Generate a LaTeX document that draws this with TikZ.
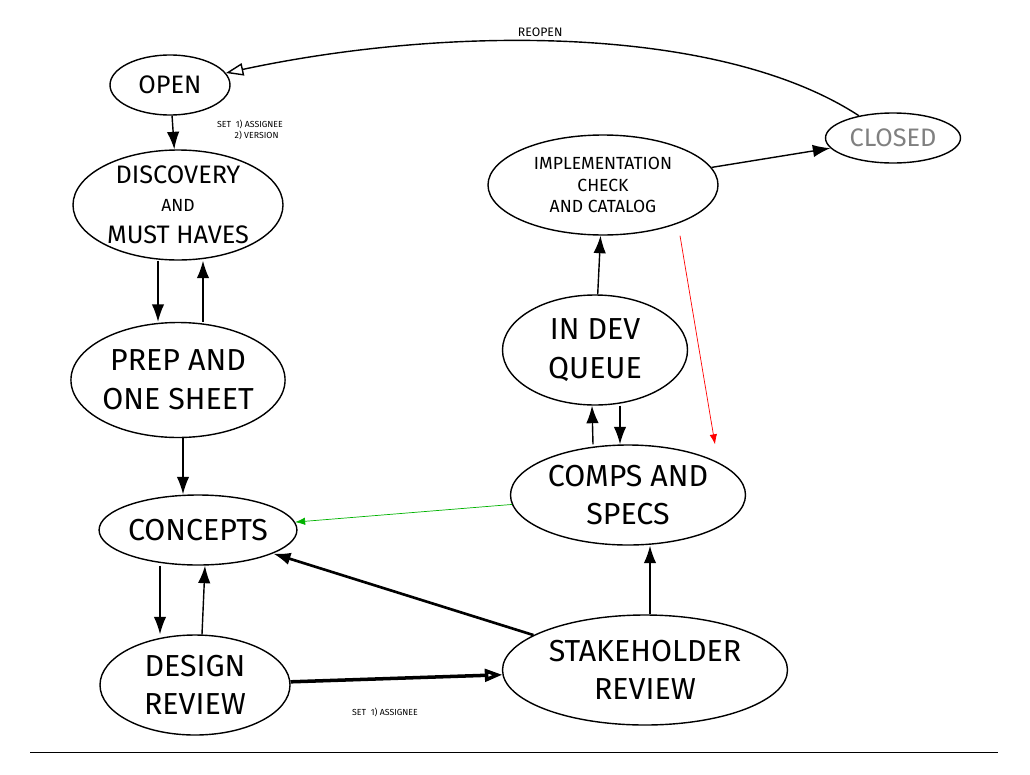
\documentclass[tikz,border=0pt]{standalone}
\usepackage{fontspec}
\setmainfont{Fira Sans}
\usetikzlibrary{shapes.geometric, arrows.meta}
\tikzstyle{state} = [ellipse, draw, thick, align=center, inner sep=0pt, font=\Large]
\tikzstyle{line} = [draw, thick, -{Latex[length=3.5mm, width=2.5mm]}]
\tikzstyle{openline} = [draw, thick, -{Triangle[open, length=3.5mm, width=2.5mm]}]
\tikzstyle{thin} = [draw, -{Latex[length=2mm]}]
\tikzstyle{note} = [font=\tiny, align=left]

\begin{document}
\begin{tikzpicture}[x=0.02cm, y=-0.02cm]
\useasboundingbox (0,0) rectangle (1030,774);

\node [state, minimum width=120*0.02cm, minimum height=60*0.02cm] (O) at (170,85) {OPEN};
\node [state, minimum width=210*0.02cm, minimum height=110*0.02cm] (D) at (178,205) {DISCOVERY\\[-2pt]{\normalsize AND}\\MUST HAVES};
\node [state, minimum width=195*0.02cm, minimum height=115*0.02cm, font=\LARGE] (P) at (178,380) {PREP AND\\ONE SHEET};
\node [state, minimum width=180*0.02cm, minimum height=70*0.02cm, font=\LARGE] (C) at (198,530) {CONCEPTS};
\node [state, minimum width=190*0.02cm, minimum height=100*0.02cm, font=\LARGE] (DR) at (195,685) {DESIGN\\REVIEW};
\node [state, minimum width=285*0.02cm, minimum height=110*0.02cm, font=\LARGE] (SR) at (645,670) {STAKEHOLDER\\REVIEW};
\node [state, minimum width=235*0.02cm, minimum height=100*0.02cm, font=\LARGE] (CS) at (628,495) {COMPS AND\\SPECS};
\node [state, minimum width=185*0.02cm, minimum height=110*0.02cm, font=\LARGE] (Q) at (595,350) {IN DEV\\QUEUE};
\node [state, minimum width=230*0.02cm, minimum height=100*0.02cm, font=\normalsize] (IC) at (603,185) {IMPLEMENTATION\\CHECK\\AND CATALOG};
\node [state, minimum width=135*0.02cm, minimum height=50*0.02cm, font=\Large\color{gray}] (CL) at (893,138) {CLOSED};

\path [line] (O) -- (D);
\path [line] ([xshift=-20*0.02cm]D.south) -- ([xshift=-20*0.02cm]P.north);
\path [line] ([xshift=25*0.02cm]P.north) -- ([xshift=25*0.02cm]D.south);
\path [line] ([xshift=5*0.02cm]P.south) -- ([xshift=-15*0.02cm]C.north);
\path [line] ([xshift=-38*0.02cm]C.south) -- ([xshift=-35*0.02cm]DR.north);
\path [line] ([xshift=7*0.02cm]DR.north) -- ([xshift=7*0.02cm]C.south);
\path [openline, line width=2pt] (DR) -- (SR);
\path [line, line width=1.5pt] (SR) -- (C);
\path [line] ([xshift=5*0.02cm]SR.north) -- ([xshift=22*0.02cm]CS.south);
\path [line] ([xshift=-35*0.02cm]CS.north) -- ([xshift=-3*0.02cm]Q.south);
\path [line] ([xshift=25*0.02cm]Q.south) -- ([xshift=-8*0.02cm]CS.north);
\path [line] (Q) -- (IC);
\path [line] (IC) -- (CL);
\path [thin, red] ([xshift=77*0.02cm]IC.south) -- ([xshift=87*0.02cm]CS.north);
\path [thin, green!70!black] (CS) -- (C);
\path [openline] (CL) .. controls (720,25) and (450,25) .. node[pos=0.55, above=-1pt, font=\scriptsize] {REOPEN} (O);

\node [note] (n1) at (250,130) {SET\ \ 1) ASSIGNEE\\\hspace{2em}2) VERSION};
\node [note] (n2) at (385,712) {SET\ \ 1) ASSIGNEE};
\coordinate (b1) at (30,752);
\coordinate (b2) at (998,752);
\draw (b1) -- (b2);

\end{tikzpicture}
\end{document}
